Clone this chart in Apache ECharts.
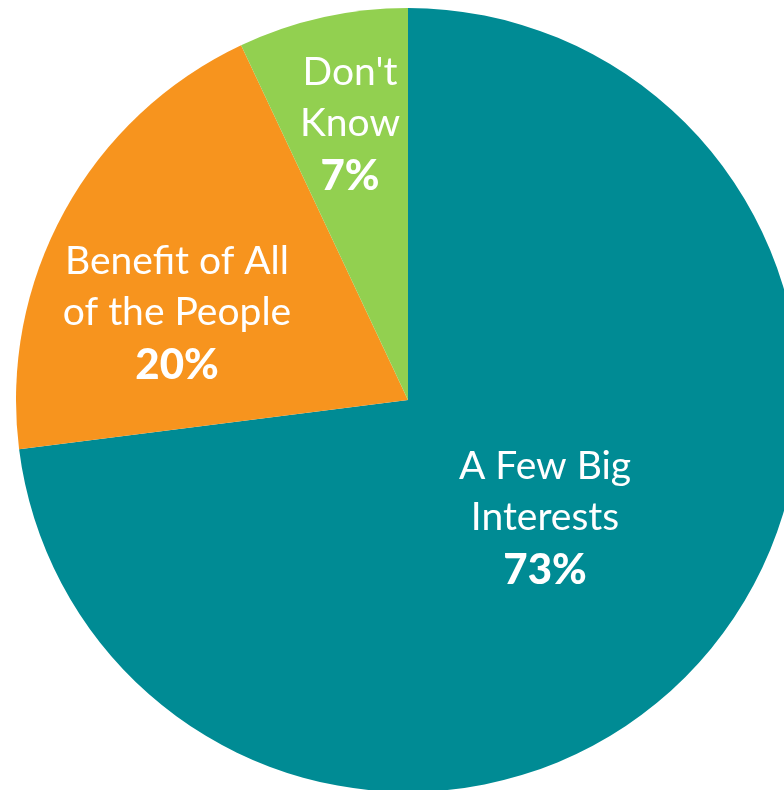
<!DOCTYPE html>
<html>
<head>
<meta charset="utf-8">
<script src="https://cdn.jsdelivr.net/npm/echarts@6/dist/echarts.min.js"></script>
<style>
html,body{margin:0;padding:0;background:#fff;}
#chart{width:784px;height:790px;}
</style>
</head>
<body>
<div id="chart"></div>
<script>
var categories = ["A Few Big\nInterests", "Benefit of All\nof the People", "Don't\nKnow"];
var values = [73, 20, 7];
var colors = ["#008B94", "#F7941E", "#92D050"];
var labelPos = [[545, 519], [177, 314], [350, 125]];

var chart = echarts.init(document.getElementById('chart'), null, {renderer: 'canvas'});
var data = categories.map(function (c, i) {
  return { name: c, value: values[i], itemStyle: { color: colors[i] } };
});
chart.setOption({
  animation: false,
  series: [{
    type: 'pie',
    center: [408, 400],
    radius: 392,
    startAngle: 90,
    clockwise: true,
    data: data,
    silent: true,
    emphasis: { disabled: true },
    itemStyle: { borderWidth: 0 },
    labelLine: { show: false },
    label: {
      show: true,
      position: 'inside',
      color: '#fff',
      formatter: function (p) {
        return p.name.split('\n').map(function (l) { return '{n|' + l + '}'; }).join('\n') + '\n{b|' + p.value + '%}';
      },
      rich: {
        n: { fontFamily: 'Lato', fontSize: 39, lineHeight: 51, color: '#fff', align: 'center' },
        b: { fontFamily: 'Lato', fontSize: 42, fontWeight: 900, lineHeight: 54, color: '#fff', align: 'center' }
      }
    },
    labelLayout: function (p) {
      var pos = labelPos[p.dataIndex];
      return { x: pos[0], y: pos[1], align: 'center', verticalAlign: 'middle' };
    }
  }]
});
</script>
</body>
</html>
